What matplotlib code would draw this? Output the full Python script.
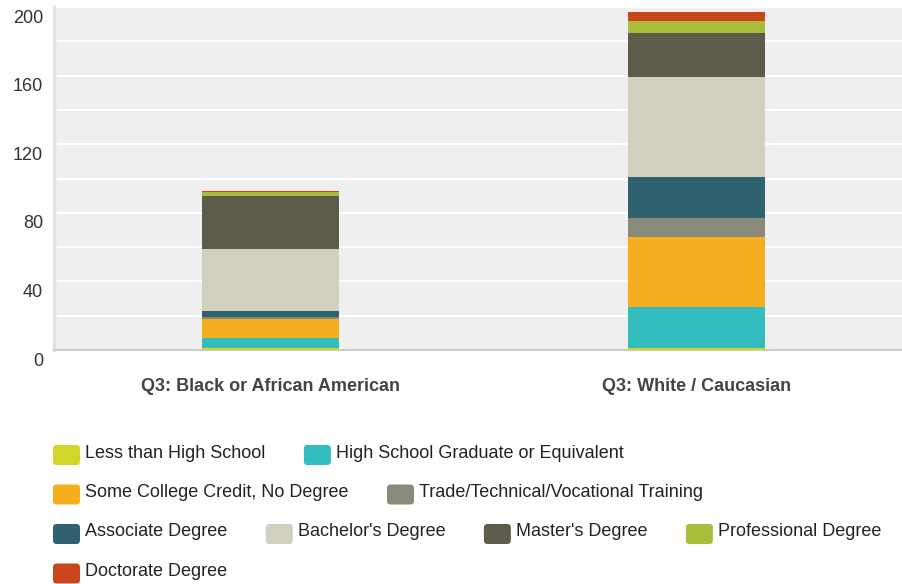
import matplotlib
matplotlib.use('Agg')
import matplotlib.pyplot as plt
from matplotlib.patches import FancyBboxPatch
from matplotlib.transforms import ScaledTranslation
import numpy as np

plt.rcParams['font.family'] = ['Liberation Sans', 'DejaVu Sans']

# datos
groups = ['Q3: Black or African American', 'Q3: White / Caucasian']
levels = ['Less than High School', 'High School Graduate or Equivalent',
          'Some College Credit, No Degree', 'Trade/Technical/Vocational Training',
          'Associate Degree', "Bachelor's Degree", "Master's Degree",
          'Professional Degree', 'Doctorate Degree']
colors = ['#d2d62b', '#33bdbf', '#f7ae1e', '#8a8a7a', '#2f616e',
          '#d0cfc0', '#5c5b4c', '#a9bd3a', '#c9451c']

less_hs = [1, 1]
hs_grad = [6, 24]
some_college = [11, 41]
trade = [1, 11]
associate = [4, 24]
bachelor = [36, 58]
master = [31, 26]
professional = [2, 7]
doctorate = [1, 5]
series = [less_hs, hs_grad, some_college, trade, associate,
          bachelor, master, professional, doctorate]

W, H = 902, 584
fig = plt.figure(figsize=(W / 100, H / 100), dpi=100)
ax = fig.add_axes([54 / W, (H - 350) / H, 848 / W, 343 / H])
ax.set_facecolor('#efefef')

x = np.arange(len(groups))
bottom = np.zeros(len(groups))
for vals, col, name in zip(series, colors, levels):
    ax.bar(x, vals, 0.32, bottom=bottom, color=col, label=name, zorder=3)
    bottom += np.array(vals)

ax.set_xlim(-0.508, 1.482)
ax.set_ylim(0, 200)
ax.set_yticks(np.arange(0, 201, 40))
ax.set_yticks(np.arange(0, 201, 20), minor=True)
ax.grid(True, axis='y', which='both', color='white', linewidth=1.5, zorder=1)
ax.set_axisbelow(True)
ax.tick_params(axis='y', which='both', length=0, labelsize=13,
               labelcolor='#333333', pad=8)
shift = ScaledTranslation(0, -2.5 / 100, fig.dpi_scale_trans)
for lbl in ax.get_yticklabels():
    lbl.set_verticalalignment('top')
    lbl.set_transform(lbl.get_transform() + shift)

ax.set_xticks(x, groups)
ax.tick_params(axis='x', length=0, labelsize=13, labelcolor='#444444', pad=20)
for lbl in ax.get_xticklabels():
    lbl.set_fontweight('bold')

for s in ['top', 'right']:
    ax.spines[s].set_visible(False)
ax.spines['left'].set_color('#e2e2e2')
ax.spines['left'].set_linewidth(2.5)
ax.spines['bottom'].set_color('#cccccc')
ax.spines['bottom'].set_linewidth(1.5)

# leyenda manual (flujo horizontal)
fig.canvas.draw()
renderer = fig.canvas.get_renderer()
px, py = 53, 455
sw_w, sw_h, gap_txt, gap_item, max_x = 27, 20, 5, 38.5, 895
for name, col in zip(levels, colors):
    t = fig.text(0, 0, name, fontsize=13, color='#222222', va='center')
    tw = t.get_window_extent(renderer).width
    if px + sw_w + gap_txt + tw > max_x:
        px = 53
        py += 39.5
    sw = FancyBboxPatch((px / W, (H - py - sw_h / 2) / H), sw_w / W, sw_h / H,
                        boxstyle='round,pad=0,rounding_size=0.004',
                        transform=fig.transFigure, facecolor=col,
                        edgecolor='none', mutation_aspect=W / H)
    fig.patches.append(sw)
    t.set_position(((px + sw_w + gap_txt) / W, (H - py + 2) / H))
    px += sw_w + gap_txt + tw + gap_item

fig.savefig('out.png', dpi=100)
